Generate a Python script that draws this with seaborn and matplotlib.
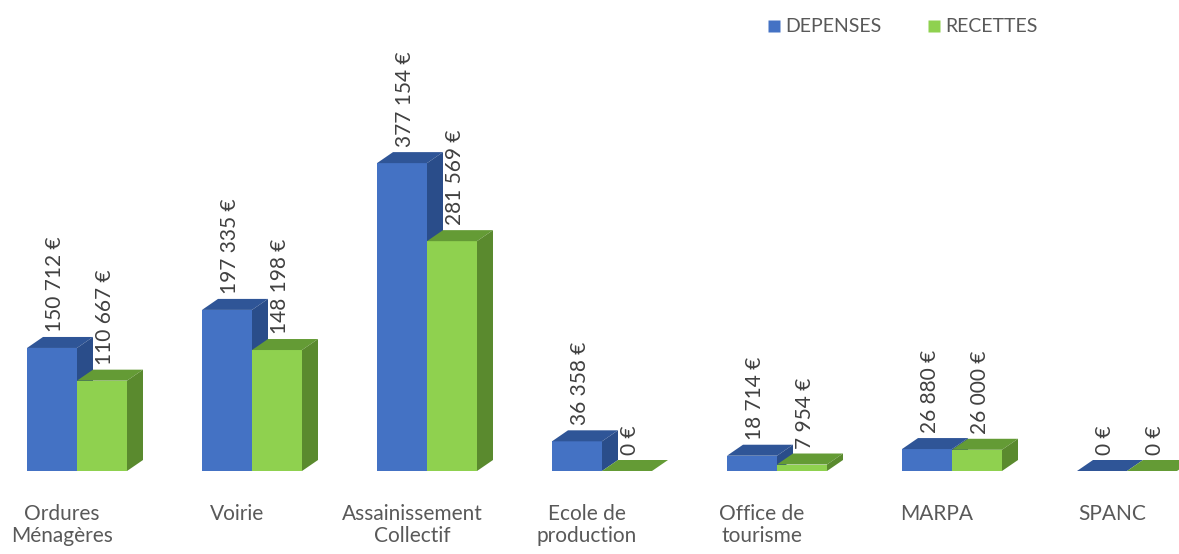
import matplotlib
matplotlib.use("Agg")
import matplotlib.pyplot as plt
from matplotlib.patches import Polygon
from matplotlib.lines import Line2D
import seaborn as sns
import pandas as pd
import numpy as np

# Données
categories = ["Ordures\nMénagères", "Voirie", "Assainissement\nCollectif",
              "Ecole de\nproduction", "Office de\ntourisme", "MARPA", "SPANC"]
depenses = [150712, 197335, 377154, 36358, 18714, 26880, 0]
recettes = [110667, 148198, 281569, 0, 7954, 26000, 0]
series = ["DEPENSES", "RECETTES"]

df = pd.DataFrame({
    "categorie": categories * 2,
    "montant": depenses + recettes,
    "type": [series[0]] * len(categories) + [series[1]] * len(categories),
})

# Couleurs façon Excel (face, dessus, côté)
BLUE = ("#4472C4", "#2F5597", "#2A4D8A")
GREEN = ("#8FD14F", "#649B35", "#5A8A2E")
TEXT_GRAY = "#595959"

sns.set_theme(style="white")
plt.rcParams["font.family"] = ["Lato", "DejaVu Sans"]

W, H = 1179, 554
fig = plt.figure(figsize=(W / 100, H / 100), dpi=100)
base_px = 83                      # hauteur de la ligne de base depuis le bas
ax = fig.add_axes([0, base_px / H, 1, (H - base_px) / H])

PX_PER_CAT = 175.0
EUR_PER_PX = 1225.0
x0_px = 77.0

sns.barplot(data=df, x="categorie", y="montant", hue="type",
            palette=[BLUE[0], GREEN[0]], width=50 * 2 / PX_PER_CAT, gap=0,
            saturation=1, legend=False, ax=ax, errorbar=None)
ax.set_xlim(-x0_px / PX_PER_CAT, (W - x0_px) / PX_PER_CAT)
ax.set_ylim(0, (H - base_px) * EUR_PER_PX)

# pseudo-3D : dessus et côté
dx = 16 / PX_PER_CAT
dy = 11 * EUR_PER_PX
n = len(categories)
for i, p in enumerate(ax.patches):
    cols = BLUE if i < n else GREEN
    z = 2 if i < n else 3
    p.set_zorder(z)
    p.set_linewidth(0)
    x, w, h = p.get_x(), p.get_width(), p.get_height()
    top = Polygon([(x, h), (x + w, h), (x + w + dx, h + dy), (x + dx, h + dy)],
                  closed=True, facecolor=cols[1], edgecolor="none", zorder=z + 0.1)
    side = Polygon([(x + w, 0), (x + w + dx, dy), (x + w + dx, h + dy), (x + w, h)],
                   closed=True, facecolor=cols[2], edgecolor="none", zorder=z + 0.1)
    ax.add_patch(top)
    ax.add_patch(side)
    # étiquette de valeur
    val = int(round(h))
    txt = f"{val:,}".replace(",", " ") + " €"
    ax.text(x + w / 2 + 3 / PX_PER_CAT, h + dy + 5 * EUR_PER_PX, txt,
            rotation=90, ha="center", va="bottom", fontsize=15,
            color="#404040", zorder=5)

ax.set_xticks(np.arange(n) - 15 / PX_PER_CAT)
ax.set_xticklabels(categories, fontsize=15, color=TEXT_GRAY, linespacing=1.1)
ax.tick_params(axis="x", length=0, pad=24)
ax.set_yticks([])
ax.set_xlabel("")
ax.set_ylabel("")
sns.despine(ax=ax, left=True, bottom=True)

handles = [Line2D([], [], marker="s", linestyle="none", markersize=9,
                  markerfacecolor=c[0], markeredgecolor="none") for c in (BLUE, GREEN)]
fig.legend(handles, series, loc="center", bbox_to_anchor=(901 / W, 1 - 27 / H),
           ncol=2, frameon=False, fontsize=14, handletextpad=0.1, handlelength=1.0,
           columnspacing=2.2, labelcolor=TEXT_GRAY)

fig.savefig("out.png", dpi=100, facecolor="white")
